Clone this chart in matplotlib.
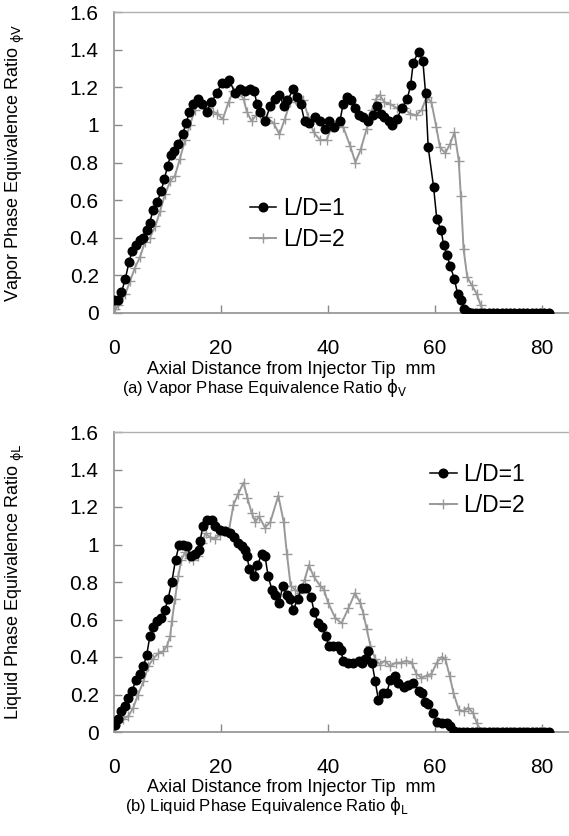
import matplotlib
matplotlib.use("Agg")
import matplotlib.pyplot as plt
from matplotlib import font_manager

# (a) vapor phase, L/D=1
vap_x1 = [0.0, 0.7, 1.4, 2.1, 2.8, 3.4, 4.1, 4.9, 5.5, 6.1,
          6.7, 7.3, 8.1, 8.8, 9.4, 10.0, 10.6, 11.3, 12.0, 12.8,
          13.5, 14.1, 14.7, 15.6, 16.4, 17.3, 18.2, 19.2, 20.1, 20.9,
          21.5, 22.6, 23.6, 24.5, 25.4, 26.2, 26.7, 27.3, 28.2, 29.2,
          30.1, 30.9, 31.7, 32.4, 33.5, 34.1, 34.9, 35.6, 36.5, 37.6,
          38.5, 39.4, 40.2, 41.1, 42.2, 42.8, 43.5, 44.3, 45.0, 45.8,
          46.6, 47.5, 48.3, 49.1, 49.8, 50.5, 51.3, 51.9, 52.8, 53.8,
          54.8, 55.4, 55.9, 56.9, 57.7, 58.2, 58.7, 59.7, 60.3, 61.1,
          61.6, 62.2, 62.8, 63.6, 64.2, 64.8, 65.4, 66.1, 66.8, 67.6,
          68.4, 69.2, 70.0, 70.8, 71.6, 72.4, 73.2, 74.0, 74.8, 75.6,
          76.4, 77.2, 78.0, 78.8, 79.6, 80.4, 81.2]
vap_y1 = [0.07, 0.07, 0.11, 0.18, 0.27, 0.33, 0.36, 0.39, 0.40, 0.44,
          0.48, 0.55, 0.59, 0.65, 0.71, 0.78, 0.84, 0.86, 0.90, 0.95,
          1.01, 1.07, 1.11, 1.14, 1.11, 1.07, 1.12, 1.17, 1.22, 1.22,
          1.24, 1.17, 1.19, 1.18, 1.19, 1.18, 1.11, 1.07, 1.02, 1.10,
          1.14, 1.16, 1.10, 1.13, 1.19, 1.15, 1.11, 1.02, 1.01, 1.04,
          1.02, 0.98, 1.02, 0.99, 1.02, 1.11, 1.15, 1.13, 1.09, 1.05,
          1.04, 1.02, 1.05, 1.10, 1.06, 1.04, 1.02, 1.00, 1.03, 1.09,
          1.14, 1.21, 1.33, 1.39, 1.34, 1.17, 0.88, 0.67, 0.50, 0.44,
          0.36, 0.31, 0.25, 0.18, 0.10, 0.07, 0.02, 0.005, 0, 0,
          0, 0, 0, 0, 0, 0, 0, 0, 0, 0,
          0, 0, 0, 0, 0, 0, 0]

# (a) vapor phase, L/D=2
vap_x2 = [0.2, 0.8, 2.1, 3.0, 3.9, 4.9, 5.8, 6.7, 7.7, 8.6,
          9.5, 10.5, 11.4, 12.3, 13.3, 14.2, 15.1, 15.8, 16.7, 17.6,
          18.5, 19.3, 20.3, 21.4, 22.3, 23.2, 24.2, 24.8, 25.7, 26.5,
          27.3, 28.5, 29.8, 30.9, 31.9, 32.9, 33.8, 35.4, 36.3, 37.3,
          38.5, 39.7, 40.7, 41.9, 42.8, 44.1, 45.1, 46.1, 47.2, 48.2,
          49.0, 49.6, 50.5, 51.6, 52.8, 54.1, 55.3, 56.4, 57.5, 58.4,
          59.3, 60.2, 60.9, 61.9, 62.8, 63.6, 64.4, 64.8, 65.3, 66.0,
          66.8, 67.8, 68.5, 69.2, 70.0, 70.8, 71.6, 72.4, 73.2, 74.0,
          74.8, 75.6, 76.4, 77.2, 78.0, 78.8, 79.6, 80.4, 81.2]
vap_y2 = [0.02, 0.04, 0.10, 0.17, 0.24, 0.30, 0.38, 0.40, 0.46, 0.54,
          0.63, 0.70, 0.73, 0.82, 0.92, 1.00, 1.08, 1.12, 1.11, 1.09,
          1.07, 1.06, 1.03, 1.12, 1.18, 1.17, 1.14, 1.07, 1.02, 1.05,
          1.06, 1.04, 1.01, 0.95, 1.03, 1.12, 1.14, 1.13, 1.04, 0.96,
          0.92, 0.92, 0.99, 1.02, 0.99, 0.89, 0.80, 0.87, 0.98, 1.08,
          1.14, 1.16, 1.12, 1.11, 1.09, 1.09, 1.06, 1.05, 1.08, 1.15,
          1.12, 0.99, 0.88, 0.85, 0.90, 0.96, 0.81, 0.62, 0.34, 0.19,
          0.15, 0.10, 0.04, 0, 0, 0, 0, 0, 0, 0,
          0, 0, 0, 0, 0, 0, 0, 0, 0]

# (b) liquid phase, L/D=1
liq_x1 = [0.2, 0.8, 1.4, 2.1, 2.7, 3.4, 4.1, 4.9, 5.5, 6.1,
          6.7, 7.3, 8.1, 8.8, 9.5, 10.1, 10.8, 11.5, 12.2, 12.8,
          13.6, 14.3, 15.1, 15.8, 16.1, 16.6, 17.3, 18.3, 18.9, 19.8,
          20.7, 21.7, 22.4, 23.2, 23.9, 24.5, 24.8, 25.3, 26.2, 26.8,
          27.6, 28.2, 28.8, 29.5, 30.1, 30.9, 31.5, 32.3, 32.9, 33.5,
          34.3, 35.1, 35.9, 36.8, 37.4, 38.2, 38.8, 39.6, 40.1, 41.0,
          41.9, 42.4, 42.8, 43.8, 44.7, 45.7, 46.3, 46.9, 47.5, 48.2,
          48.8, 49.4, 50.2, 51.0, 51.6, 52.5, 53.1, 54.1, 55.0, 55.9,
          56.9, 57.5, 58.1, 58.7, 59.6, 60.3, 61.2, 62.2, 62.8, 63.6,
          64.4, 65.2, 66.0, 66.8, 67.6, 68.4, 69.2, 70.0, 70.8, 71.6,
          72.4, 73.2, 74.0, 74.8, 75.6, 76.4, 77.2, 78.0, 78.8, 79.6,
          80.4, 81.2]
liq_y1 = [0.04, 0.07, 0.11, 0.14, 0.18, 0.22, 0.28, 0.31, 0.35, 0.41,
          0.51, 0.56, 0.59, 0.61, 0.65, 0.71, 0.80, 0.92, 1.00, 1.00,
          0.99, 0.94, 0.95, 0.97, 1.02, 1.10, 1.13, 1.13, 1.10, 1.08,
          1.07, 1.06, 1.04, 1.01, 0.99, 0.97, 0.94, 0.87, 0.83, 0.89,
          0.95, 0.94, 0.83, 0.76, 0.73, 0.69, 0.78, 0.73, 0.71, 0.65,
          0.71, 0.77, 0.77, 0.72, 0.64, 0.58, 0.56, 0.51, 0.46, 0.46,
          0.46, 0.44, 0.38, 0.37, 0.37, 0.38, 0.37, 0.39, 0.43, 0.37,
          0.27, 0.17, 0.21, 0.21, 0.28, 0.30, 0.26, 0.24, 0.25, 0.26,
          0.22, 0.21, 0.16, 0.15, 0.10, 0.055, 0.05, 0.05, 0.03, 0.005,
          0, 0, 0, 0, 0, 0, 0, 0, 0, 0,
          0, 0, 0, 0, 0, 0, 0, 0, 0, 0,
          0, 0]

# (b) liquid phase, L/D=2
liq_x2 = [0.2, 0.8, 1.7, 2.7, 3.6, 4.5, 5.5, 6.4, 7.3, 8.3,
          9.2, 9.9, 10.5, 10.8, 11.4, 12.0, 12.6, 13.3, 14.1, 14.8,
          15.6, 16.4, 17.1, 17.9, 18.9, 19.8, 20.7, 21.5, 22.3, 23.2,
          24.2, 24.9, 25.7, 26.4, 27.1, 28.2, 29.2, 30.7, 31.7, 32.3,
          33.0, 33.8, 34.7, 35.6, 36.4, 37.3, 38.5, 39.2, 40.0, 41.3,
          42.5, 43.8, 45.0, 46.0, 46.6, 47.2, 47.9, 48.8, 49.7, 50.6,
          51.6, 52.6, 53.6, 54.6, 55.6, 56.5, 57.4, 58.4, 59.3, 60.3,
          61.2, 61.9, 62.7, 63.4, 64.4, 65.3, 66.2, 67.1, 67.8, 68.7,
          69.5, 70.3, 71.1, 71.9, 72.7, 73.5, 74.3, 75.1, 75.9, 76.7,
          77.5, 78.3, 79.1, 79.9, 80.7]
liq_y2 = [0.04, 0.055, 0.07, 0.085, 0.13, 0.20, 0.27, 0.35, 0.39, 0.42,
          0.43, 0.46, 0.51, 0.59, 0.71, 0.83, 0.92, 0.96, 0.93, 0.92,
          0.94, 1.01, 1.06, 1.04, 1.03, 1.05, 1.07, 1.08, 1.21, 1.27,
          1.33, 1.25, 1.17, 1.12, 1.15, 1.09, 1.12, 1.26, 1.12, 0.95,
          0.78, 0.76, 0.74, 0.81, 0.89, 0.83, 0.78, 0.76, 0.69, 0.61,
          0.58, 0.66, 0.74, 0.69, 0.63, 0.55, 0.46, 0.39, 0.36, 0.38,
          0.35, 0.37, 0.37, 0.38, 0.37, 0.31, 0.29, 0.30, 0.31, 0.37,
          0.40, 0.39, 0.30, 0.21, 0.12, 0.11, 0.13, 0.10, 0.046, 0.0,
          0, 0, 0, 0, 0, 0, 0, 0, 0, 0,
          0, 0, 0, 0, 0]

series_labels = ["L/D=1", "L/D=2"]
x_ticks = [0, 20, 40, 60, 80]
y_ticks = [0, 0.2, 0.4, 0.6, 0.8, 1.0, 1.2, 1.4, 1.6]
y_tick_labels = ["0", "0.2", "0.4", "0.6", "0.8", "1", "1.2", "1.4", "1.6"]
x_title = "Axial Distance from Injector Tip  mm"

names = {f.name for f in font_manager.fontManager.ttflist}
narrow = "Liberation Sans Narrow" if "Liberation Sans Narrow" in names else "Liberation Sans"
plt.rcParams["font.family"] = ["Liberation Sans", "DejaVu Sans"]

W, H = 569, 836
fig = plt.figure(figsize=(W / 100, H / 100), dpi=100)
ax1 = fig.add_axes([114 / W, 1 - 313 / H, 455 / W, 301 / H])
ax2 = fig.add_axes([114 / W, 1 - 732 / H, 455 / W, 300 / H])

GRAY = "#999999"


def style(ax):
    ax.set_xlim(0, 85)
    ax.set_ylim(0, 1.6)
    ax.set_xticks(x_ticks)
    ax.set_yticks(y_ticks)
    ax.set_yticklabels(y_tick_labels)
    ax.tick_params(direction="in", length=6, width=1, color="#888888",
                   labelsize=15, top=False, right=False)
    ax.tick_params(axis="x", pad=19)
    ax.tick_params(axis="y", pad=11)
    for lab in ax.get_xticklabels() + ax.get_yticklabels():
        lab.set_family(narrow)
    ax.spines["right"].set_visible(False)
    ax.spines["left"].set_color("#999999")
    ax.spines["left"].set_linewidth(1.3)
    ax.spines["bottom"].set_color("#999999")
    ax.spines["bottom"].set_linewidth(1.3)
    ax.spines["top"].set_color("#b0b0b0")
    ax.spines["top"].set_linewidth(1.0)


for ax, (xa, ya, xb, yb) in [(ax1, (vap_x1, vap_y1, vap_x2, vap_y2)),
                              (ax2, (liq_x1, liq_y1, liq_x2, liq_y2))]:
    ax.plot(xb, yb, color=GRAY, lw=1.4, marker="+", ms=7, mew=1.0,
            label=series_labels[1], zorder=2)
    ax.plot(xa, ya, color="black", lw=1.1, marker="o", ms=6.2,
            label=series_labels[0], zorder=3)
    style(ax)

for ax, anchor in [(ax1, (0.299, 0.295)), (ax2, (0.695, 0.808))]:
    h, l = ax.get_legend_handles_labels()
    ax.legend(h[::-1], l[::-1], loc="center left", bbox_to_anchor=anchor,
              frameon=False, fontsize=16.5, handlelength=1.15,
              handletextpad=0.3, labelspacing=0.35, borderpad=0,
              borderaxespad=0)

ax1.set_ylabel(r"Vapor Phase Equivalence Ratio ${}_{\mathrm{ϕV}}$",
               family=narrow, fontsize=13)
ax2.set_ylabel(r"Liquid Phase Equivalence Ratio ${}_{\mathrm{ϕL}}$",
               family=narrow, fontsize=13)
ax1.yaxis.set_label_coords(-0.191, 0.5)
ax2.yaxis.set_label_coords(-0.191, 0.5)

fig.text(291 / W, 1 - 369 / H, x_title, ha="center", va="center",
         family=narrow, fontsize=13)
fig.text(265 / W, 1 - 388 / H, r"(a) Vapor Phase Equivalence Ratio $\mathrm{ϕ}_\mathrm{V}$",
         ha="center", va="center", family=narrow, fontsize=12)
fig.text(291 / W, 1 - 787 / H, x_title, ha="center", va="center",
         family=narrow, fontsize=13)
fig.text(267 / W, 1 - 806 / H, r"(b) Liquid Phase Equivalence Ratio $\mathrm{ϕ}_\mathrm{L}$",
         ha="center", va="center", family=narrow, fontsize=12)

fig.savefig("out.png", dpi=100)
